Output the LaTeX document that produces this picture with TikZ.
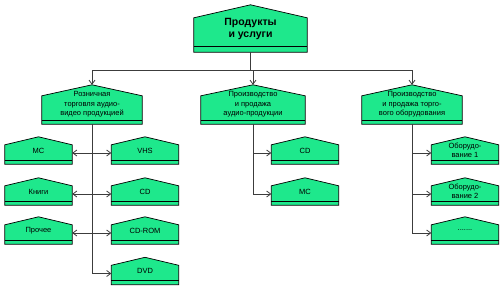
\documentclass[tikz,border=0pt]{standalone}
\usepackage{fontspec}
\setmainfont{Liberation Sans}
\usetikzlibrary{arrows.meta}
\definecolor{boxgreen}{RGB}{30,232,140}
\definecolor{wire}{RGB}{60,60,60}
\tikzset{
  house/.style 2 args={inner sep=0pt, align=center,
    append after command={\pgfextra{\let\hn\tikzlastnode
      \begin{pgfinterruptpath}
      \filldraw[draw=black, fill=boxgreen, line width=0.7pt, line join=miter]
        (\hn.south west) -- ([yshift=-#1]\hn.north west) -- (\hn.north)
        -- ([yshift=-#1]\hn.north east) -- (\hn.south east) -- cycle;
      \draw[black, line width=0.7pt] ([yshift=#2]\hn.south west) -- ([yshift=#2]\hn.south east);
      \end{pgfinterruptpath}}}},
  leaf/.style={house={8pt}{4pt}, minimum width=67pt, minimum height=27pt,
    font=\fontsize{7.5}{9.5}\selectfont},
  dept/.style={house={11pt}{4pt}, minimum width=100pt, minimum height=39pt,
    font=\fontsize{7.5}{9.5}\selectfont},
  root/.style={house={13pt}{6pt}, minimum width=113pt, minimum height=47pt,
    font=\bfseries\fontsize{10.5}{12}\selectfont},
  conn/.style={-{Straight Barb[length=4pt,width=6pt]}, wire, line width=0.8pt},
  link/.style={{Straight Barb[length=4pt,width=6pt]}-{Straight Barb[length=4pt,width=6pt]}, wire, line width=0.8pt},
}
\begin{document}
\begin{tikzpicture}[x=1pt,y=-1pt]
  \useasboundingbox (0,0) rectangle (502,289);
  % top level
  \node[root] (top) at (250.5,28.5) {Продукты\\и услуги};
  \coordinate (bus) at (250.5,70);

  % departments
  \node[dept] (retail) at (92,104.5) {Розничная\\торговля аудио-\\видео продукцией};
  \node[dept, minimum width=104pt] (audio) at (253,104.5) {Производство\\и продажа\\аудио-продукции};
  \node[dept] (equip) at (412,104.5) {Производство\\и продажа торго-\\вого оборудования};

  % retail goods
  \node[leaf] (mc) at (38.5,150.5) {МС};
  \node[leaf] (books) at (38.5,191.5) {Книги};
  \node[leaf] (misc) at (38.5,230.5) {Прочее};
  \node[leaf] (vhs) at (145,150.5) {VHS};
  \node[leaf] (cd) at (145,191.5) {CD};
  \node[leaf] (cdrom) at (145,230.5) {CD-ROM};
  \node[leaf] (dvd) at (145,271) {DVD};

  % audio goods
  \node[leaf] (cdB) at (305,150.5) {CD};
  \node[leaf] (mcB) at (305,191.5) {МС};

  % equipment
  \node[leaf] (eqA) at (465,150.5) {Оборудо-\\вание 1};
  \node[leaf] (eqB) at (465,191.5) {Оборудо-\\вание 2};
  \node[leaf] (eqC) at (465,230.5) {.......};

  \draw[wire, line width=0.8pt] (top.south) -- (bus);
  \foreach \d in {retail,audio,equip}
    \draw[conn] (bus) -| (\d.north);

  \draw[conn] (retail.south) |- ([yshift=-2.5pt]dvd.west);
  \foreach \a/\b in {mc/vhs,books/cd,misc/cdrom}
    \draw[link] ([yshift=-2.5pt]\a.east) -- ([yshift=-2.5pt]\b.west);

  \foreach \n in {cdB,mcB}
    \draw[conn] (audio.south) |- ([yshift=-2.5pt]\n.west);
  \foreach \n in {eqA,eqB,eqC}
    \draw[conn] (equip.south) |- ([yshift=-2.5pt]\n.west);
\end{tikzpicture}
\end{document}
